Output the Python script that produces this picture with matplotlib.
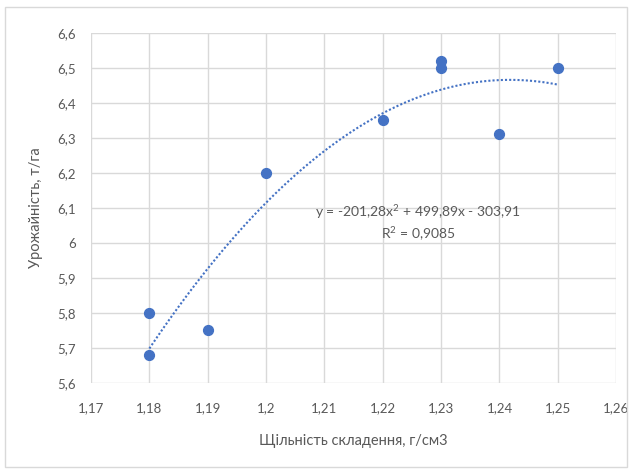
import numpy as np
import matplotlib.pyplot as plt
from matplotlib.patches import Rectangle

# data
density = [1.18, 1.18, 1.19, 1.20, 1.22, 1.23, 1.23, 1.24, 1.25]
yield_t = [5.80, 5.68, 5.75, 6.20, 6.35, 6.52, 6.50, 6.31, 6.50]
trend_coef = [-201.28, 499.89, -303.91]
x_ticks = [1.17, 1.18, 1.19, 1.20, 1.21, 1.22, 1.23, 1.24, 1.25, 1.26]
x_tick_labels = ['1,17', '1,18', '1,19', '1,2', '1,21', '1,22', '1,23', '1,24', '1,25', '1,26']
y_ticks = [5.6, 5.7, 5.8, 5.9, 6.0, 6.1, 6.2, 6.3, 6.4, 6.5, 6.6]
y_tick_labels = ['5,6', '5,7', '5,8', '5,9', '6', '6,1', '6,2', '6,3', '6,4', '6,5', '6,6']

plt.rcParams['font.family'] = ['Lato', 'DejaVu Sans']
plt.rcParams['mathtext.fontset'] = 'custom'
plt.rcParams['mathtext.rm'] = 'Lato'
grey = '#595959'
blue = '#4472C4'

fig = plt.figure(figsize=(6.32, 4.72), dpi=100)
fig.patches.append(Rectangle((0.008, 0.01), 0.984, 0.975, transform=fig.transFigure,
                             fill=False, edgecolor='#d9d9d9', linewidth=1))
ax = fig.add_axes([0.144, 0.189, 0.831, 0.741])

ax.scatter(density, yield_t, s=50, color=blue, zorder=3)
xs = np.linspace(min(density), max(density), 100)
ax.plot(xs, np.polyval(trend_coef, xs), linestyle=(0, (1, 1)), color=blue, linewidth=1.5, zorder=2)

ax.set_xlim(1.17, 1.26)
ax.set_ylim(5.6, 6.6)
ax.set_xticks(x_ticks)
ax.set_xticklabels(x_tick_labels)
ax.set_yticks(y_ticks)
ax.set_yticklabels(y_tick_labels)
ax.grid(True, color='#d9d9d9', linewidth=1)
ax.set_axisbelow(True)
for s in ax.spines.values():
    s.set_visible(False)
ax.tick_params(axis='x', length=0, colors=grey, labelsize=9.5, pad=14)
ax.tick_params(axis='y', length=0, colors=grey, labelsize=9.5, pad=11)

ax.set_xlabel('Щільність складення, г/см3', color=grey, fontsize=10.5, labelpad=14)
ax.set_ylabel('Урожайність, т/га', color=grey, fontsize=10.5, labelpad=10)

ax.text(1.226, 6.058, 'y = -201,28x$^2$ + 499,89x - 303,91\nR$^2$ = 0,9085',
        ha='center', va='center', color=grey, fontsize=10, linespacing=1.25)

fig.savefig('out.png', dpi=100)
